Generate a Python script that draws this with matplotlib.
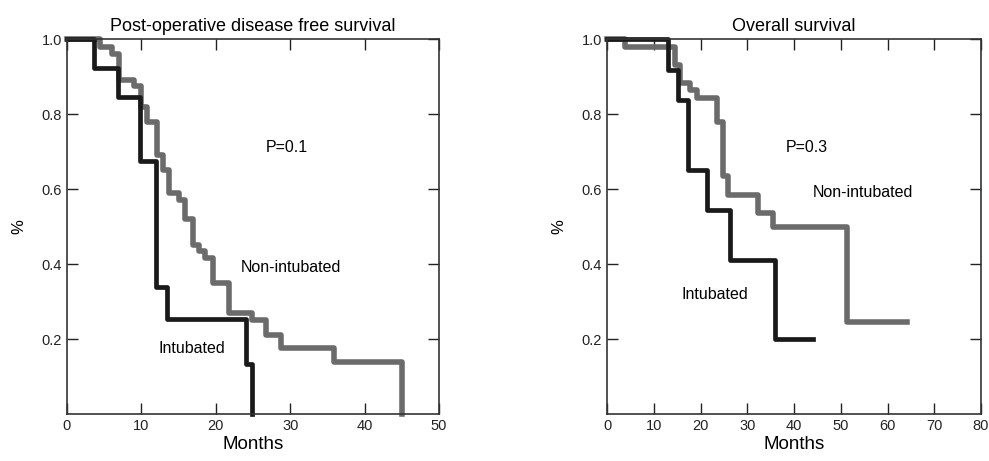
import matplotlib.pyplot as plt

plt.rcParams['font.family'] = ['Liberation Sans', 'DejaVu Sans']

# Post-operative disease free survival (months, survival fraction)
dfs_int_t = [0, 3.6, 6.8, 9.8, 12.0, 13.5, 24.1, 24.9]
dfs_int_s = [1.0, 0.923, 0.845, 0.675, 0.34, 0.254, 0.133, 0.0]
dfs_non_t = [0, 4.5, 6.0, 7.0, 9.0, 10.0, 10.8, 12.1, 12.9, 13.7, 15.1, 15.8,
             16.9, 17.8, 18.5, 19.6, 21.8, 24.9, 26.8, 28.8, 35.9, 45.0]
dfs_non_s = [1.0, 0.98, 0.96, 0.89, 0.875, 0.82, 0.78, 0.69, 0.65, 0.59, 0.57, 0.52,
             0.45, 0.435, 0.415, 0.35, 0.27, 0.25, 0.21, 0.175, 0.14, 0.0]

# Overall survival
os_int_t = [0, 13.0, 15.2, 17.3, 21.4, 26.3, 35.9, 44.0]
os_int_s = [1.0, 0.917, 0.837, 0.65, 0.543, 0.41, 0.2, 0.2]
os_non_t = [0, 3.8, 14.5, 15.6, 17.8, 19.2, 23.5, 24.8, 25.9, 32.3, 35.5, 51.3, 64.2]
os_non_s = [1.0, 0.979, 0.93, 0.882, 0.864, 0.842, 0.778, 0.636, 0.583, 0.537, 0.5, 0.245, 0.245]

fig = plt.figure(figsize=(9.89, 4.61), dpi=100)
ax1 = fig.add_axes([0.0677, 0.102, 0.3762, 0.813])
ax2 = fig.add_axes([0.6138, 0.102, 0.3781, 0.813])

gray = '#6b6b6b'
black = '#1a1a1a'


def style(ax, xmax, title):
    ax.set_xlim(0, xmax)
    ax.set_ylim(0, 1.0)
    ax.set_xticks(range(0, xmax + 1, 10))
    ax.set_yticks([0.2, 0.4, 0.6, 0.8, 1.0])
    ax.set_yticklabels(['0.2', '0.4', '0.6', '0.8', '1.0'])
    ax.tick_params(direction='in', length=8, width=1, top=True, right=True,
                   labelsize=10.5, colors='#222222')
    ax.tick_params(labeltop=False, labelright=False)
    for s in ax.spines.values():
        s.set_linewidth(1.2)
        s.set_color('#333333')
    ax.set_xlabel('Months', fontsize=13.5, labelpad=2)
    ax.set_ylabel('%', fontsize=12, labelpad=11)
    ax.set_title(title, fontsize=13, pad=6)


ax1.step(dfs_non_t, dfs_non_s, where='post', color=gray, lw=4, clip_on=False)
ax1.step(dfs_int_t, dfs_int_s, where='post', color=black, lw=3.4, clip_on=False)
style(ax1, 50, 'Post-operative disease free survival')
ax1.text(29.6, 0.71, 'P=0.1', fontsize=11.5, ha='center', va='center')
ax1.text(30.1, 0.39, 'Non-intubated', fontsize=11.5, ha='center', va='center')
ax1.text(16.8, 0.175, 'Intubated', fontsize=11.5, ha='center', va='center')

ax2.step(os_non_t, os_non_s, where='post', color=gray, lw=4, clip_on=False)
ax2.step(os_int_t, os_int_s, where='post', color=black, lw=3.4, clip_on=False)
style(ax2, 80, 'Overall survival')
ax2.text(42.8, 0.71, 'P=0.3', fontsize=11.5, ha='center', va='center')
ax2.text(54.8, 0.59, 'Non-intubated', fontsize=11.5, ha='center', va='center')
ax2.text(23.1, 0.32, 'Intubated', fontsize=11.5, ha='center', va='center')

fig.savefig('out.png', dpi=100)
